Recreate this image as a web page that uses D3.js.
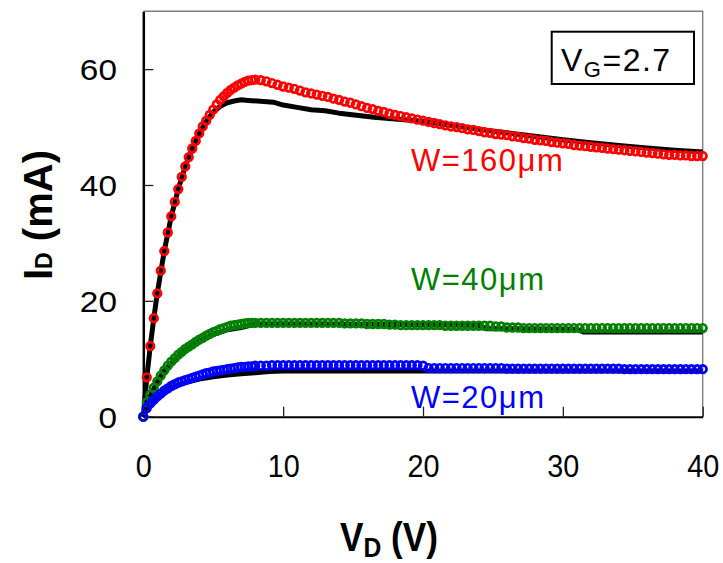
<!DOCTYPE html>
<html>
<head>
<meta charset="utf-8">
<script src="https://cdn.jsdelivr.net/npm/d3@7"></script>
<style>
body { margin: 0; background: #fff; }
text { font-family: "Liberation Sans", Arial, sans-serif; white-space: pre; }
</style>
</head>
<body>
<div id="chart"></div>
<script>
// measured drain voltages (V), shared by the three widths
const vMeas = [0, 0.25, 0.5, 0.75, 1, 1.25, 1.5, 1.75, 2, 2.25, 2.5, 2.75, 3, 3.25, 3.5, 3.75,
    4, 4.25, 4.5, 4.75, 5, 5.25, 5.5, 5.75, 6, 6.25, 6.5, 6.75, 7, 7.25, 7.5, 7.75, 8,
    8.4, 8.8, 9.2, 9.6, 10, 10.4, 10.8, 11.2, 11.6, 12,
    12.4, 12.8, 13.2, 13.6, 14, 14.4, 14.8, 15.2, 15.6, 16,
    16.4, 16.8, 17.2, 17.6, 18, 18.4, 18.8, 19.2, 19.6, 20,
    20.4, 20.8, 21.2, 21.6, 22, 22.4, 22.8, 23.2, 23.6, 24,
    24.4, 24.8, 25.2, 25.6, 26, 26.4, 26.8, 27.2, 27.6, 28,
    28.4, 28.8, 29.2, 29.6, 30, 30.4, 30.8, 31.2, 31.6, 32,
    32.4, 32.8, 33.2, 33.6, 34, 34.4, 34.8, 35.2, 35.6, 36,
    36.4, 36.8, 37.2, 37.6, 38, 38.4, 38.8, 39.2, 39.6, 40];

// measured drain current (mA)
const idW160 = [0, 6.8, 12.2, 17.0, 21.3, 25.2, 28.6, 31.8, 34.6, 37.1, 39.3, 41.4, 43.2, 44.8, 46.3, 47.6,
    48.9, 50.1, 51.1, 52.1, 53.0, 53.9, 54.7, 55.3, 55.9, 56.4, 56.8, 57.2, 57.5, 57.8, 58.0, 58.1, 58.2,
    58.1, 57.9, 57.6, 57.3, 57.0, 56.8, 56.6, 56.3, 56.0, 55.8,
    55.6, 55.4, 55.2, 54.9, 54.7, 54.4, 54.2, 53.9, 53.6, 53.3,
    53.1, 52.8, 52.6, 52.3, 52.1, 51.9, 51.7, 51.5, 51.3, 51.1,
    50.9, 50.7, 50.5, 50.3, 50.1, 50.0, 49.8, 49.6, 49.5, 49.3,
    49.1, 49.0, 48.8, 48.7, 48.6, 48.4, 48.3, 48.1, 48.0, 47.8,
    47.7, 47.6, 47.4, 47.3, 47.2, 47.1, 46.9, 46.8, 46.7, 46.6,
    46.5, 46.4, 46.3, 46.2, 46.1, 46.0, 45.9, 45.8, 45.7, 45.6,
    45.5, 45.4, 45.3, 45.2, 45.2, 45.1, 45.1, 45.0, 45.0, 45.0];

const idW40 = [0, 2.5, 3.8, 5.0, 6.1, 7.1, 8.0, 8.8, 9.5, 10.1, 10.7, 11.2, 11.7, 12.1, 12.5, 12.9,
    13.3, 13.6, 14.0, 14.3, 14.6, 14.8, 15.1, 15.3, 15.5, 15.7, 15.8, 15.9, 16.0, 16.1, 16.2, 16.2, 16.2,
    16.2, 16.2, 16.2, 16.2, 16.2, 16.2, 16.2, 16.2, 16.2, 16.2,
    16.2, 16.2, 16.2, 16.2, 16.2, 16.1, 16.1, 16.1, 16.1, 16.0,
    16.0, 16.0, 16.0, 15.9, 15.9, 15.8, 15.8, 15.8, 15.8, 15.8,
    15.8, 15.8, 15.8, 15.7, 15.7, 15.7, 15.7, 15.7, 15.7, 15.7,
    15.7, 15.7, 15.6, 15.6, 15.4, 15.4, 15.4, 15.3, 15.3, 15.3,
    15.3, 15.3, 15.3, 15.3, 15.3, 15.3, 15.3, 15.3, 15.3, 15.3,
    15.3, 15.3, 15.3, 15.3, 15.3, 15.3, 15.3, 15.3, 15.3, 15.3,
    15.3, 15.3, 15.3, 15.3, 15.3, 15.3, 15.3, 15.3, 15.3, 15.3];

const idW20 = [0, 1.5, 2.3, 2.9, 3.5, 4.0, 4.5, 4.9, 5.3, 5.6, 5.9, 6.1, 6.3, 6.5, 6.7, 6.9,
    7.1, 7.3, 7.5, 7.6, 7.8, 7.9, 8.0, 8.1, 8.2, 8.3, 8.4, 8.5, 8.6, 8.6, 8.7, 8.7, 8.8,
    8.8, 8.8, 8.9, 8.9, 8.9, 8.9, 8.9, 8.9, 8.9, 8.9,
    8.9, 8.9, 8.9, 8.9, 8.9, 8.9, 8.9, 8.9, 8.9, 8.9,
    8.9, 8.9, 8.9, 8.9, 8.9, 8.9, 8.9, 8.9, 8.9, 8.8,
    8.4, 8.4, 8.4, 8.4, 8.4, 8.4, 8.4, 8.4, 8.4, 8.4,
    8.4, 8.4, 8.4, 8.4, 8.3, 8.3, 8.3, 8.3, 8.3, 8.3,
    8.3, 8.3, 8.3, 8.3, 8.3, 8.3, 8.3, 8.3, 8.3, 8.3,
    8.3, 8.3, 8.3, 8.3, 8.3, 8.2, 8.2, 8.2, 8.2, 8.2,
    8.2, 8.2, 8.2, 8.2, 8.2, 8.2, 8.2, 8.2, 8.2, 8.2];

// simulated curves (black lines)
const simW160V = [0, 0.25, 0.5, 0.75, 1, 1.5, 2, 2.5, 3, 3.5, 4, 4.5, 5, 5.5, 6, 6.5, 7, 7.5, 9.3, 10,
    11, 12, 13, 14, 16.5, 18, 20, 22, 24, 26, 28, 30, 32, 34, 36, 38, 40];
const simW160 = [0, 6.8, 12.2, 17.0, 21.3, 28.6, 34.6, 39.3, 43.2, 46.3, 48.9, 51.0, 52.6, 53.6, 54.2, 54.5, 54.7, 54.6, 54.3, 53.8,
    53.4, 53.0, 52.8, 52.4, 51.7, 51.4, 51.0, 50.3, 49.6, 49.0, 48.4, 47.8, 47.3, 46.8, 46.4, 46.0, 45.7];

const simW40V = [0, 0.25, 0.5, 1, 1.5, 2, 3, 4, 5, 6, 7, 7.5, 8, 12, 18, 24, 24.5, 31, 31.5, 40];
const simW40 = [0, 2.4, 3.6, 6.0, 7.9, 9.3, 11.5, 13.0, 14.2, 15.0, 15.4, 15.7, 16.0, 16.0, 15.9, 15.8, 15.2, 15.1, 14.6, 14.6];

const simW20V = [0, 0.25, 0.5, 1, 1.5, 2, 2.5, 3, 4, 5, 6, 7, 8, 9, 10, 40];
const simW20 = [0, 1.4, 2.2, 3.4, 4.3, 5.0, 5.5, 5.9, 6.5, 6.9, 7.2, 7.4, 7.6, 7.8, 7.9, 7.9];

const xTicks = [0, 10, 20, 30, 40];
const yTicks = [0, 20, 40, 60];
const widthLabels = ["W=160μm", "W=40μm", "W=20μm"];

const width = 723;
const height = 563;
const margin = { top: 11.2, right: 20.3, bottom: 146.3, left: 143.3 };

const svg = d3.select("#chart").append("svg")
    .attr("width", width)
    .attr("height", height);

const xscale = d3.scaleLinear().domain([0, 40]).range([margin.left, width - margin.right]);
const yscale = d3.scaleLinear().domain([0, 70]).range([height - margin.bottom, margin.top]);

// grey frame on top and right
svg.append("path")
    .attr("d", `M${xscale(0)},${yscale(70)}H${xscale(40)}V${yscale(0)}`)
    .attr("fill", "none")
    .attr("stroke", "#7f7f7f")
    .attr("stroke-width", 1.4);

// y axis, ticks pointing inward
const g_yaxis = svg.append("g")
    .attr("transform", `translate(${xscale(0)},0)`)
    .call(d3.axisLeft(yscale).tickValues(yTicks).tickSizeInner(-10).tickSizeOuter(0).tickPadding(0));
g_yaxis.select(".domain").attr("stroke", "#000").attr("stroke-width", 2.5);
g_yaxis.selectAll(".tick line").attr("stroke", "#222").attr("stroke-width", 1.3);
g_yaxis.selectAll(".tick text")
    .attr("font-family", "Liberation Sans, Arial, sans-serif")
    .attr("font-size", 29)
    .attr("fill", "#000")
    .attr("x", -22.9)
    .attr("dy", "0.36em")
    .attr("transform", "scale(1.15,1)");

// x axis
const g_xaxis = svg.append("g")
    .attr("transform", `translate(0,${yscale(0)})`)
    .call(d3.axisBottom(xscale).tickValues(xTicks).tickSizeInner(-10).tickSizeOuter(0));
g_xaxis.select(".domain").attr("stroke", "#000").attr("stroke-width", 2);
g_xaxis.selectAll(".tick line").attr("stroke", "#222").attr("stroke-width", 1.3);
g_xaxis.selectAll(".tick text")
    .attr("font-family", "Liberation Sans, Arial, sans-serif")
    .attr("font-size", 32)
    .attr("fill", "#000")
    .attr("y", 60)
    .attr("dy", 0)
    .attr("transform", "scale(0.9,1)");

// simulation lines first, measured rings on top
const line = d3.line().x(d => xscale(d[0])).y(d => yscale(d[1]));
const sims = [d3.zip(simW160V, simW160), d3.zip(simW40V, simW40), d3.zip(simW20V, simW20)];
svg.append("g").selectAll("path").data(sims).join("path")
    .attr("d", line)
    .attr("fill", "none")
    .attr("stroke", "#000")
    .attr("stroke-width", 5)
    .attr("stroke-linejoin", "round");

const series = [
    { color: "#ff0000", values: idW160 },
    { color: "#008000", values: idW40 },
    { color: "#0000ff", values: idW20 }
];
series.forEach((s) => {
    svg.append("g").selectAll("circle").data(d3.zip(vMeas, s.values)).join("circle")
        .attr("cx", d => xscale(d[0]))
        .attr("cy", d => yscale(d[1]))
        .attr("r", 3.8)
        .attr("fill", "none")
        .attr("stroke", s.color)
        .attr("stroke-width", 2.7);
});

// width labels next to the curves
const labelY = [170.7, 290, 408.3];
svg.append("g").selectAll("text").data(widthLabels).join("text")
    .attr("x", 411)
    .attr("y", (d, i) => labelY[i])
    .attr("font-size", 31)
    .attr("letter-spacing", 1.5)
    .attr("fill", (d, i) => series[i].color)
    .text(d => d);

// gate voltage box
svg.append("rect")
    .attr("x", 551.7).attr("y", 31.7)
    .attr("width", 142.3).attr("height", 52.3)
    .attr("fill", "#fff")
    .attr("stroke", "#000")
    .attr("stroke-width", 2);
const vg = svg.append("text").attr("x", 561).attr("y", 71).attr("letter-spacing", 1.5);
vg.append("tspan").attr("font-size", 32).text("V");
vg.append("tspan").attr("font-size", 22).attr("dy", 5.7).text("G");
vg.append("tspan").attr("font-size", 32).attr("dy", -5.7).text("=2.7");

// axis titles
const xt = svg.append("text")
    .attr("transform", "translate(340,551) scale(0.88,1)")
    .attr("font-weight", "bold");
xt.append("tspan").attr("font-size", 40).text("V");
xt.append("tspan").attr("font-size", 28).attr("dy", 6).text("D");
xt.append("tspan").attr("font-size", 40).attr("dy", -6).text(" (V)");

const yt = svg.append("text")
    .attr("transform", "translate(51.7,280) rotate(-90)")
    .attr("font-weight", "bold");
yt.append("tspan").attr("font-size", 40).text("I");
yt.append("tspan").attr("font-size", 23).text("D");
yt.append("tspan").attr("font-size", 40).text(" (mA)");
</script>
</body>
</html>
